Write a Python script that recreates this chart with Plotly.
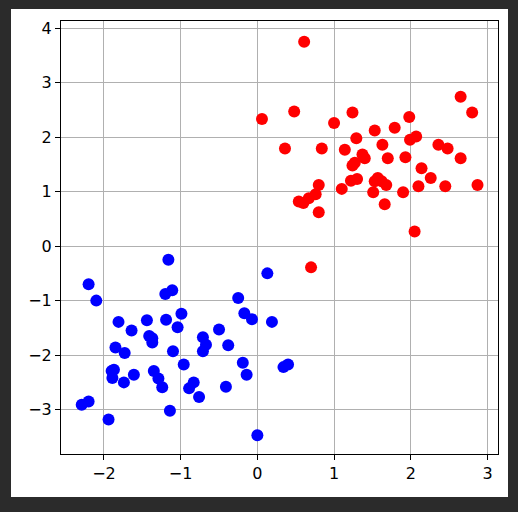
import plotly.graph_objects as go

# class A (red) points
red_x = [0.61, 0.06, 0.48, 0.36, 1.00, 1.24, 0.84, 1.29, 1.14, 1.53, 1.79, 1.98,
         2.65, 2.80, 1.63, 1.37, 1.40, 1.27, 1.24, 1.70, 1.93, 1.99, 2.07, 2.36,
         2.48, 2.65, 2.14, 2.26, 2.10, 2.45, 2.87, 1.90, 1.66, 2.05, 1.57, 1.53,
         1.62, 1.68, 1.51, 1.22, 1.30, 1.10, 0.80, 0.76, 0.67, 0.54, 0.60, 0.80,
         0.70]
red_y = [3.75, 2.33, 2.47, 1.79, 2.26, 2.45, 1.79, 1.98, 1.77, 2.12, 2.17, 2.37,
         2.74, 2.45, 1.86, 1.68, 1.61, 1.53, 1.48, 1.61, 1.63, 1.95, 2.01, 1.86,
         1.79, 1.61, 1.43, 1.25, 1.10, 1.10, 1.12, 0.99, 0.77, 0.27, 1.25, 1.19,
         1.19, 1.12, 0.99, 1.20, 1.23, 1.05, 1.12, 0.95, 0.88, 0.82, 0.79, 0.62,
         -0.39]

# class B (blue) points
blue_x = [-1.16, -2.20, -2.10, -1.20, -1.11, 0.13, -0.25, -0.17, -0.07, 0.19,
          -0.99, -1.19, -1.04, -1.44, -1.81, -1.64, -1.41, -1.37, -1.37, -1.85,
          -1.73, -1.10, -0.50, -0.71, -0.67, -0.71, -0.38, -0.96, -0.19, -0.14,
          0.34, 0.40, -1.35, -1.29, -1.24, -1.90, -1.87, -1.89, -1.74, -1.61,
          -0.83, -0.89, -0.76, -0.41, -1.14, -1.94, -2.29, -2.20, 0.00]
blue_y = [-0.25, -0.70, -1.00, -0.88, -0.81, -0.50, -0.95, -1.23, -1.34, -1.39,
          -1.24, -1.35, -1.49, -1.36, -1.39, -1.55, -1.65, -1.69, -1.77, -1.86,
          -1.96, -1.93, -1.53, -1.67, -1.81, -1.93, -1.82, -2.17, -2.14, -2.36,
          -2.22, -2.17, -2.29, -2.43, -2.59, -2.29, -2.27, -2.42, -2.50, -2.36,
          -2.50, -2.61, -2.77, -2.58, -3.02, -3.18, -2.91, -2.85, -3.47]

W, H = 518, 512
ML, MR, MT, MB = 61, 20, 21, 58
pw, ph = W - ML - MR, H - MT - MB

fig = go.Figure()
fig.add_trace(go.Scatter(x=red_x, y=red_y, mode="markers",
                         marker=dict(color="#ff0000", size=12, line=dict(width=0))))
fig.add_trace(go.Scatter(x=blue_x, y=blue_y, mode="markers",
                         marker=dict(color="#0000ff", size=12, line=dict(width=0))))

# white figure area inside the dark frame
fig.add_shape(type="rect", xref="paper", yref="paper", layer="below",
              x0=(11 - ML) / pw, x1=(508 - ML) / pw,
              y0=(H - MB - 497) / ph, y1=(H - MB - 9) / ph,
              fillcolor="white", line_width=0)

axis_style = dict(
    showgrid=True, gridcolor="#b0b0b0", gridwidth=1,
    showline=True, linecolor="black", linewidth=1, mirror=True,
    ticks="outside", ticklen=5, tickcolor="black", tickwidth=1,
    zeroline=False, dtick=1,
    tickfont=dict(family="DejaVu Sans", size=16, color="black"),
)
fig.update_xaxes(range=[-2.56, 3.137], tick0=0, **axis_style)
fig.update_yaxes(range=[-3.814, 4.13], tick0=0, **axis_style)

fig.update_layout(
    width=W, height=H,
    margin=dict(l=ML, r=MR, t=MT, b=MB),
    paper_bgcolor="#2b2b2b",
    plot_bgcolor="white",
    showlegend=False,
)
# drop the page's default body margin so the figure sits at the window corner
fig.write_html("out.html", config={"displayModeBar": False},
               post_script="document.body.style.margin='0';"
               "document.body.style.background='#2b2b2b';")
